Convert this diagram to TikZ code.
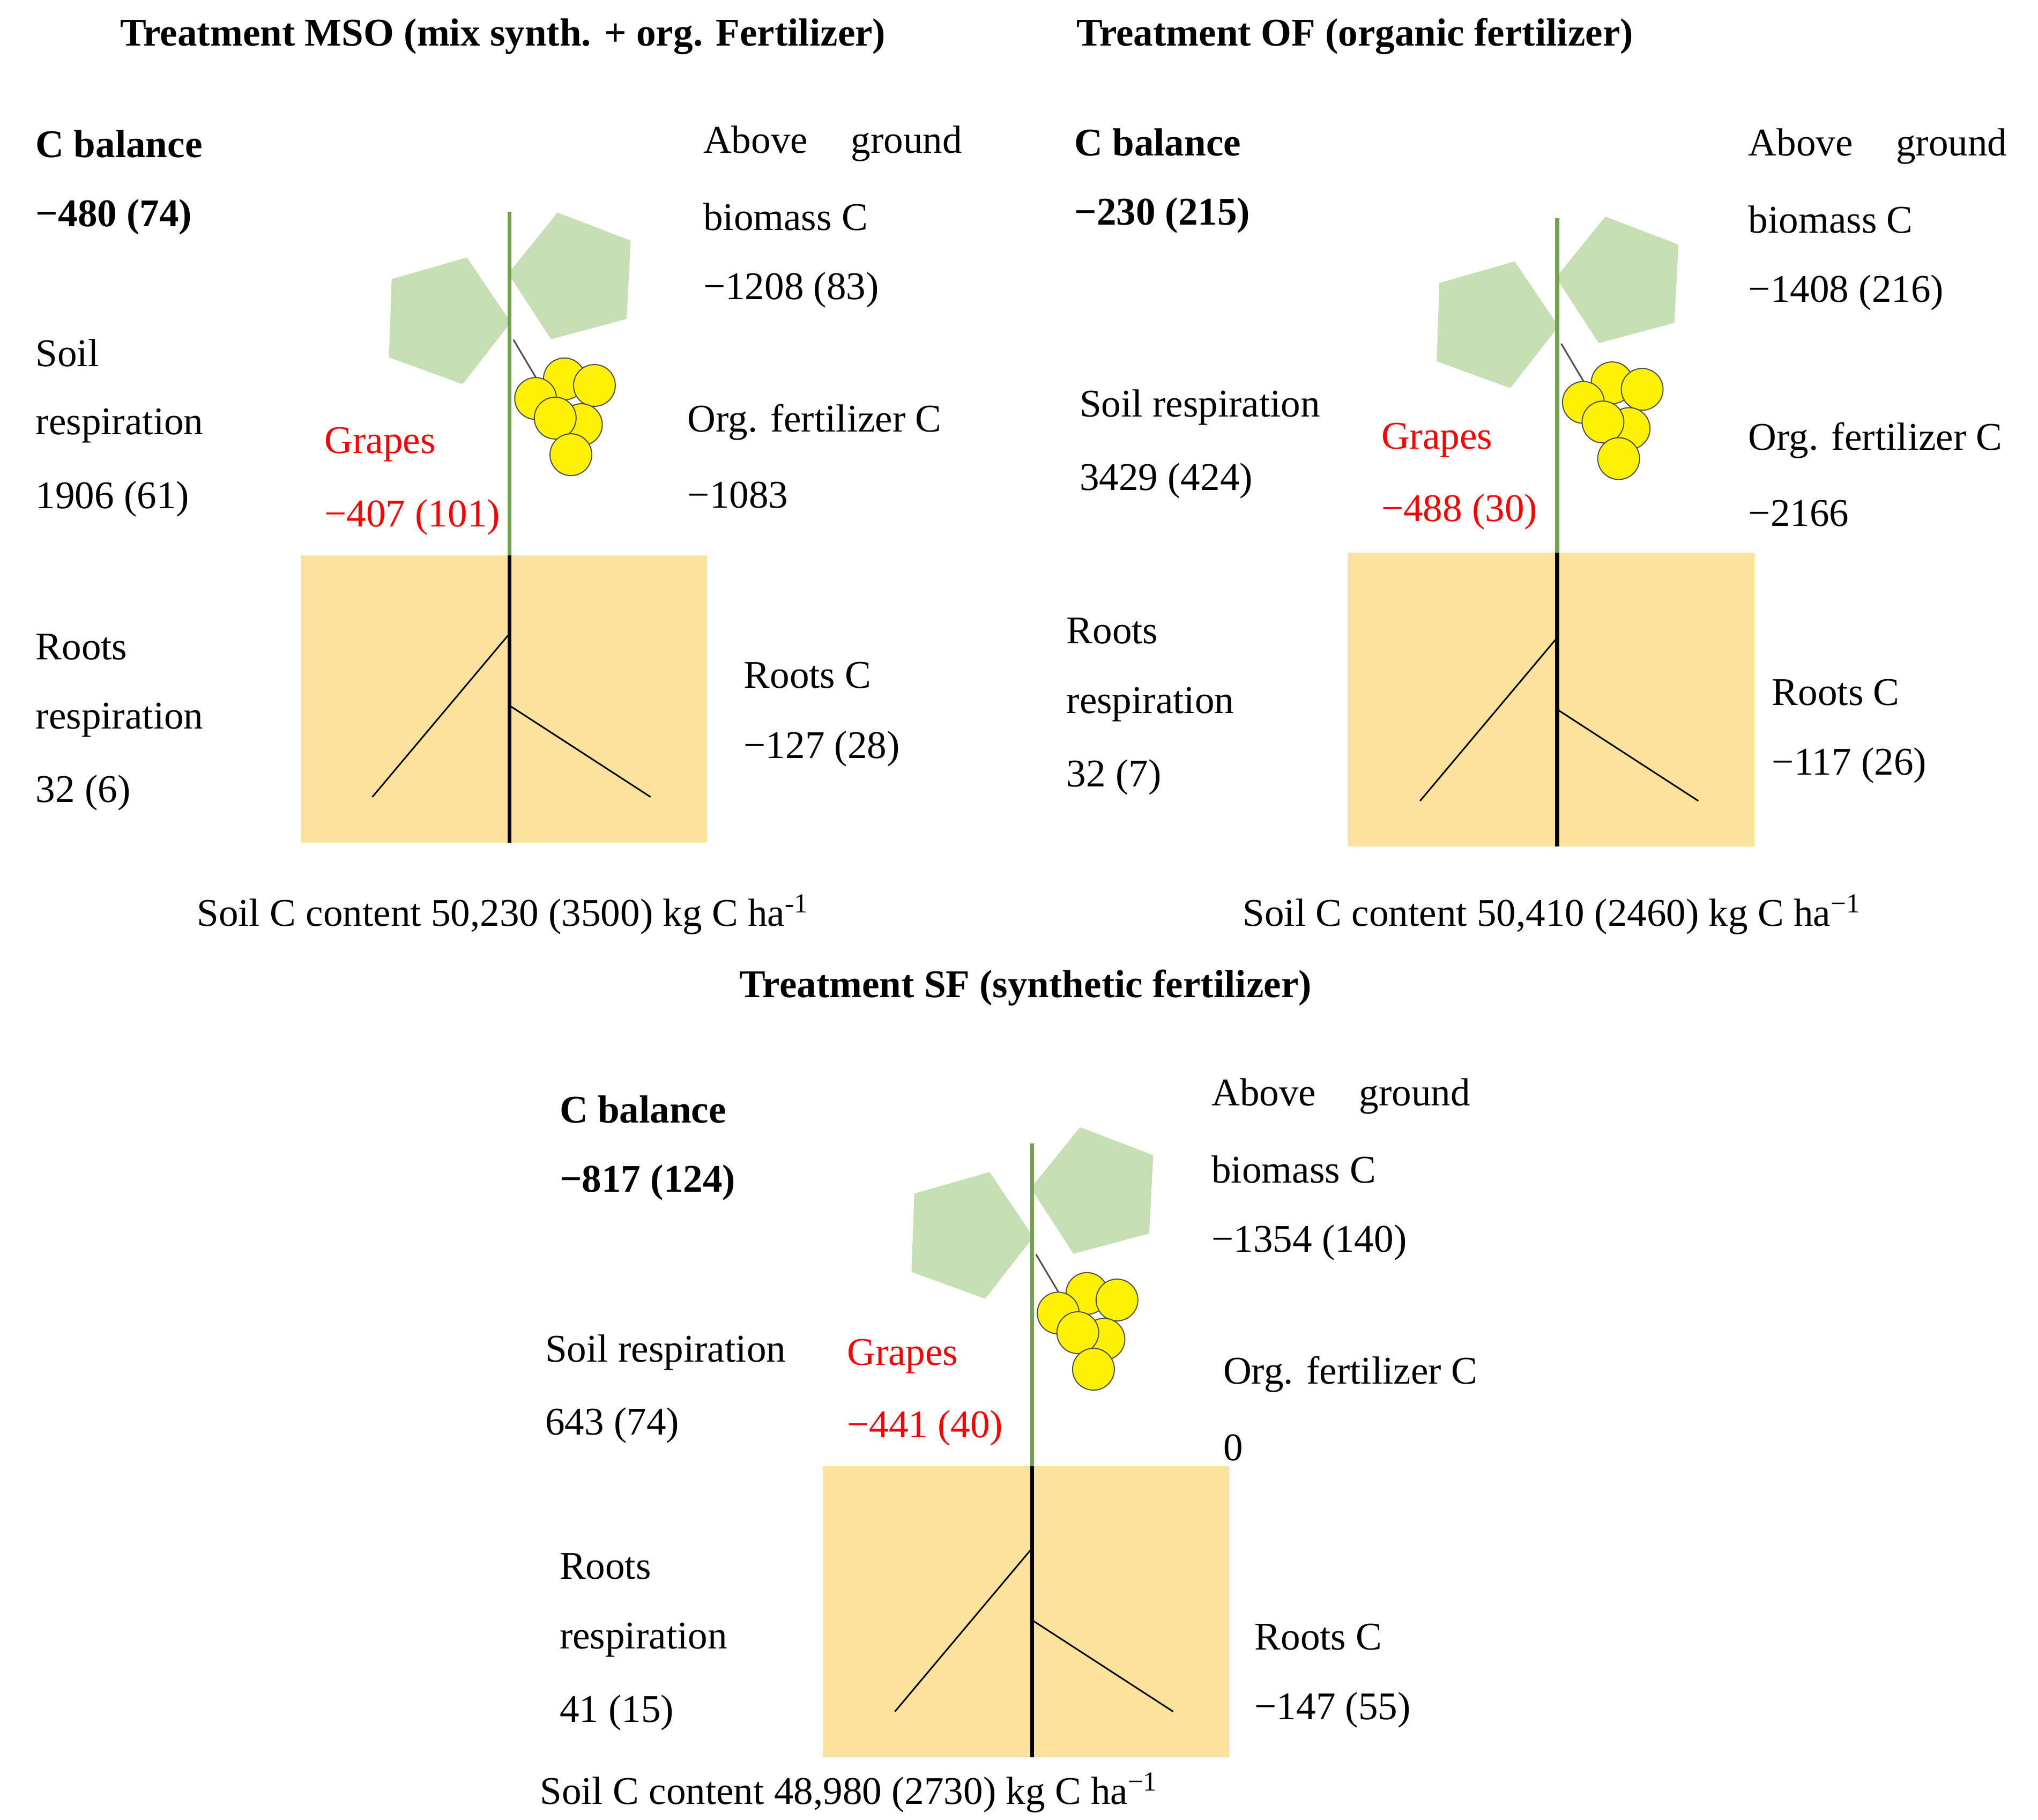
\documentclass[tikz,border=0pt]{standalone}
\usepackage{fontspec}
\setmainfont{Liberation Serif}
\usetikzlibrary{shapes.geometric}
\definecolor{soil}{HTML}{FCE29C}
\definecolor{leaf}{HTML}{C5DFB3}
\definecolor{stem}{HTML}{70A050}
\begin{document}
\begin{tikzpicture}[x=0.5pt,y=-0.5pt,
  every node/.style={font=\fontsize{15}{17}\selectfont,inner sep=0pt},
  lbl/.style={anchor=west},
  red/.style={anchor=west,text=red},
  ttl/.style={font=\fontsize{15}{17}\selectfont\bfseries},
  leafshape/.style={regular polygon,regular polygon sides=5,fill=leaf,minimum size=51pt},
  grape/.style={circle,fill=yellow,draw=black!70,line width=0.4pt,minimum size=16pt}]
\useasboundingbox (0,0) rectangle (1560,1393);
\newcommand{\plant}[4]{% shift x, shift y, stem top, box
\begin{scope}[shift={(#1,#2)}]
 \fill[soil] (230,#4) rectangle (541,645);
 \node[leafshape,rotate=-20] (l1) at (340,245) {};
 \node[leafshape,rotate=15] (l2) at (440,212) {};
 \draw[stem,line width=1.5pt] (390,#3) -- (390,#4);
 \draw[black!70,line width=0.6pt] (393,260) -- (412,292);
 \foreach \gx/\gy in {432/290,455/295,410/305,445/325,425/320,437/348}
   \node[grape] at (\gx,\gy) {};
 \draw[line width=1.5pt] (390,#4) -- (390,645);
 \draw[line width=0.6pt] (390,485) -- (285,610);
 \draw[line width=0.6pt] (390,540) -- (498,610);
\end{scope}}
% Panel MSO
\node[ttl] (t1) at (385,28) {Treatment MSO (mix synth. + org. Fertilizer)};
\plant{0}{0}{162}{425}
\node[lbl,font=\fontsize{15}{17}\selectfont\bfseries] (a1) at (27,110) {C balance};
\node[lbl,font=\fontsize{15}{17}\selectfont\bfseries] (a2) at (27,166) {−480 (74)};
\node[lbl] (a3) at (538,110) {Above\hspace{1.1em}ground};
\node[lbl] (a4) at (538,166) {biomass C};
\node[lbl] (a5) at (538,222) {−1208 (83)};
\node[lbl] (a6) at (27,270) {Soil};
\node[lbl] (a7) at (27,326) {respiration};
\node[lbl] (a8) at (27,382) {1906 (61)};
\node[red] (a9) at (248,340) {Grapes};
\node[red] (a10) at (248,396) {−407 (101)};
\node[lbl] (a11) at (526,323) {Org. fertilizer C};
\node[lbl] (a12) at (526,379) {−1083};
\node[lbl] (a13) at (27,495) {Roots};
\node[lbl] (a14) at (27,551) {respiration};
\node[lbl] (a15) at (27,607) {32 (6)};
\node[lbl] (a16) at (569,517) {Roots C};
\node[lbl] (a17) at (569,573) {−127 (28)};
\node (a18) at (385,700) {Soil C content 50,230 (3500) kg C ha\textsuperscript{-1}};
% Panel OF
\node[ttl] (t2) at (1037,28) {Treatment OF (organic fertilizer)};
\plant{802}{3}{164}{420}
\node[lbl,font=\fontsize{15}{17}\selectfont\bfseries] (b1) at (822,109) {C balance};
\node[lbl,font=\fontsize{15}{17}\selectfont\bfseries] (b2) at (822,165) {−230 (215)};
\node[lbl] (b3) at (1338,112) {Above\hspace{1.1em}ground};
\node[lbl] (b4) at (1338,168) {biomass C};
\node[lbl] (b5) at (1338,224) {−1408 (216)};
\node[lbl] (b6) at (826,312) {Soil respiration};
\node[lbl] (b7) at (826,368) {3429 (424)};
\node[red] (b8) at (1057,337) {Grapes};
\node[red] (b9) at (1057,392) {−488 (30)};
\node[lbl] (b10) at (1338,337) {Org. fertilizer C};
\node[lbl] (b11) at (1338,393) {−2166};
\node[lbl] (b12) at (816,483) {Roots};
\node[lbl] (b13) at (816,539) {respiration};
\node[lbl] (b14) at (816,595) {32 (7)};
\node[lbl] (b15) at (1356,530) {Roots C};
\node[lbl] (b16) at (1356,586) {−117 (26)};
\node (b17) at (1188,700) {Soil C content 50,410 (2460) kg C ha\textsuperscript{−1}};
% Panel SF
\node[ttl] (t3) at (785,756) {Treatment SF (synthetic fertilizer)};
\plant{400}{700}{175}{422}
\node[lbl,font=\fontsize{15}{17}\selectfont\bfseries] (c1) at (428,849) {C balance};
\node[lbl,font=\fontsize{15}{17}\selectfont\bfseries] (c2) at (428,905) {−817 (124)};
\node[lbl] (c3) at (927,839) {Above\hspace{1.1em}ground};
\node[lbl] (c4) at (927,895) {biomass C};
\node[lbl] (c5) at (927,951) {−1354 (140)};
\node[lbl] (c6) at (417,1035) {Soil respiration};
\node[lbl] (c7) at (417,1091) {643 (74)};
\node[red] (c8) at (648,1038) {Grapes};
\node[red] (c9) at (648,1093) {−441 (40)};
\node[lbl] (c10) at (936,1052) {Org. fertilizer C};
\node[lbl] (c11) at (936,1108) {0};
\node[lbl] (c12) at (428,1199) {Roots};
\node[lbl] (c13) at (428,1255) {respiration};
\node[lbl] (c14) at (428,1311) {41 (15)};
\node[lbl] (c15) at (960,1253) {Roots C};
\node[lbl] (c16) at (960,1309) {−147 (55)};
\node (c17) at (650,1372) {Soil C content 48,980 (2730) kg C ha\textsuperscript{−1}};
\end{tikzpicture}
\end{document}
